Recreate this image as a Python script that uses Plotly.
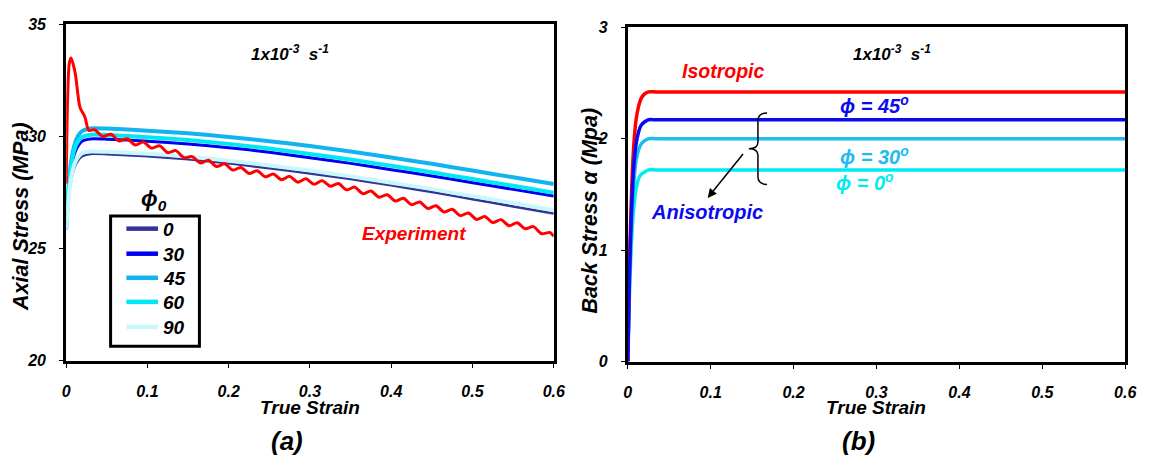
import plotly.graph_objects as go

# ---------------- data: panel (a) ----------------
strain_model = [0, 0.002, 0.005, 0.01, 0.015, 0.02, 0.03, 0.05, 0.1, 0.15, 0.2, 0.25,
                0.3, 0.35, 0.4, 0.45, 0.5, 0.55, 0.6]
stress_phi0 = [25.85, 26.7, 27.8, 28.6, 28.95, 29.12, 29.22, 29.21, 29.12, 28.98, 28.8, 28.58,
               28.35, 28.1, 27.82, 27.52, 27.2, 26.88, 26.56]
stress_phi30 = [25.85, 27.0, 28.3, 29.2, 29.6, 29.8, 29.89, 29.88, 29.79, 29.66, 29.5, 29.3,
                29.05, 28.8, 28.52, 28.24, 27.94, 27.64, 27.34]
stress_phi45 = [25.85, 27.3, 28.6, 29.6, 30.05, 30.25, 30.36, 30.35, 30.26, 30.14, 29.98, 29.79,
                29.57, 29.33, 29.06, 28.78, 28.48, 28.18, 27.88]
stress_phi60 = [25.85, 27.1, 28.4, 29.4, 29.8, 29.98, 30.08, 30.07, 29.97, 29.84, 29.67, 29.46,
                29.22, 28.97, 28.69, 28.4, 28.1, 27.8, 27.49]
stress_phi90 = [25.85, 26.8, 27.9, 28.75, 29.1, 29.26, 29.33, 29.32, 29.23, 29.1, 28.92, 28.71,
                28.48, 28.22, 27.94, 27.65, 27.34, 27.03, 26.71]

strain_exp = [0.0, 0.004, 0.006, 0.011, 0.017, 0.023, 0.028,
              0.035, 0.045, 0.055, 0.065, 0.075, 0.085, 0.095, 0.105, 0.115, 0.125,
              0.135, 0.145, 0.155, 0.165, 0.175, 0.185, 0.195, 0.205, 0.215, 0.225,
              0.235, 0.245, 0.255, 0.265, 0.275, 0.285, 0.295, 0.305, 0.315, 0.325,
              0.335, 0.345, 0.355, 0.365, 0.375, 0.385, 0.395, 0.405, 0.415, 0.425,
              0.435, 0.445, 0.455, 0.465, 0.475, 0.485, 0.495, 0.505, 0.515, 0.525,
              0.535, 0.545, 0.555, 0.565, 0.575, 0.585, 0.595, 0.6]
stress_exp = [27.9, 33.3, 33.5, 32.85, 31.3, 30.87, 30.27,
              30.30, 30.00, 30.10, 29.80, 29.90, 29.62, 29.75, 29.48, 29.58, 29.28,
              29.37, 29.05, 29.10, 28.82, 28.94, 28.66, 28.78, 28.50, 28.62, 28.35,
              28.47, 28.20, 28.33, 28.07, 28.22, 27.96, 28.11, 27.87, 28.03, 27.78,
              27.90, 27.62, 27.74, 27.45, 27.57, 27.29, 27.40, 27.12, 27.24, 26.96,
              27.08, 26.79, 26.91, 26.63, 26.75, 26.47, 26.59, 26.30, 26.43, 26.16,
              26.29, 26.02, 26.15, 25.88, 25.98, 25.66, 25.72, 25.55]

# ---------------- data: panel (b) ----------------
strain_back = [0, 0.002, 0.004, 0.006, 0.008, 0.01, 0.013, 0.016, 0.02, 0.025, 0.035, 0.6]
back_iso = [0, 0.85, 1.4, 1.78, 2.02, 2.17, 2.29, 2.36, 2.40, 2.42, 2.42, 2.42]
back_phi45 = [0, 0.76, 1.25, 1.6, 1.82, 1.95, 2.06, 2.12, 2.15, 2.17, 2.17, 2.17]
back_phi30 = [0, 0.7, 1.16, 1.47, 1.67, 1.8, 1.9, 1.95, 1.98, 2.0, 2.0, 2.0]
back_phi0 = [0, 0.6, 1.0, 1.27, 1.44, 1.55, 1.64, 1.68, 1.7, 1.72, 1.72, 1.72]

x_ticks = [0, 0.1, 0.2, 0.3, 0.4, 0.5, 0.6]
x_ticklabels = ["0", "0.1", "0.2", "0.3", "0.4", "0.5", "0.6"]
ya_ticks = [20, 25, 30, 35]
yb_ticks = [0, 1, 2, 3]

legend_names = ["0", "30", "45", "60", "90"]
legend_colors = ["#333399", "#0000F0", "#12B4F0", "#00E8F4", "#C8F8FC"]

FONT = "Liberation Sans, Arial, sans-serif"
BI = dict(family=FONT, weight="bold", style="italic", color="black")

fig = go.Figure()

model_values = [stress_phi0, stress_phi30, stress_phi45, stress_phi60, stress_phi90]
model_widths = [2.5, 3, 4, 4, 4]

for name, ys, col, w in zip(legend_names, model_values, legend_colors, model_widths):
    fig.add_trace(go.Scatter(x=strain_model, y=ys, mode="lines", name=name,
                             line=dict(color=col, width=w, shape="spline", smoothing=0.6),
                             xaxis="x", yaxis="y", showlegend=False))

fig.add_trace(go.Scatter(x=strain_exp, y=stress_exp, mode="lines", name="Experiment",
                         line=dict(color="#FF0000", width=3, shape="spline", smoothing=0.8),
                         xaxis="x", yaxis="y", showlegend=False))

for ys, col in [(back_phi0, "#00ECF4"), (back_phi30, "#1EBCF0"),
                (back_iso, "#FF0000"), (back_phi45, "#0A0AF0")]:
    fig.add_trace(go.Scatter(x=strain_back, y=ys, mode="lines",
                             line=dict(color=col, width=3.5, shape="spline", smoothing=0.8),
                             xaxis="x2", yaxis="y2", showlegend=False))

W, H = 1153, 466
def px_x(p):
    return p / W
def px_y(p):
    return 1 - p / H

axis_common = dict(showline=True, linewidth=3, linecolor="black", mirror=True,
                   showgrid=False, zeroline=False, ticks="outside", ticklen=4,
                   tickwidth=1, tickcolor="black",
                   tickfont=dict(size=16, **BI))

fig.update_layout(
    width=W, height=H,
    margin=dict(l=0, r=0, t=0, b=0),
    paper_bgcolor="white", plot_bgcolor="white",
    xaxis=dict(domain=[px_x(63), px_x(557)], range=[0, 0.6], tickvals=x_ticks,
               ticktext=x_ticklabels, anchor="y", ticklabelstandoff=10, **axis_common),
    yaxis=dict(domain=[px_y(366), px_y(17)], range=[20, 35], tickvals=ya_ticks,
               anchor="x", ticklabelstandoff=10, **axis_common),
    xaxis2=dict(domain=[px_x(632), px_x(1136)], range=[0, 0.6], tickvals=x_ticks,
                ticktext=x_ticklabels, anchor="y2", ticklabelstandoff=10, **axis_common),
    yaxis2=dict(domain=[px_y(367), px_y(20)], range=[0, 3], tickvals=yb_ticks,
                anchor="x2", ticklabelstandoff=10, **axis_common),
    showlegend=False,
)

ann = []
def text(x, y, t, size, color="black", angle=0, xanchor="center"):
    ann.append(dict(x=px_x(x), y=px_y(y), xref="paper", yref="paper", text=t,
                    showarrow=False, textangle=angle, xanchor=xanchor, yanchor="middle",
                    font=dict(size=size, family=FONT, weight="bold", style="italic", color=color)))

text(17, 216, "Axial Stress (MPa)", 21.5, angle=-90)
text(594, 210, "Back Stress α (Mpa)", 21.5, angle=-90)
text(310, 415, "True Strain", 19)
text(884, 415, "True Strain", 19)
text(287, 449, "(a)", 26)
text(866, 449, "(b)", 26)
text(290, 47, "1x10<sup>-3</sup>  s<sup>-1</sup>", 17)
text(900, 47, "1x10<sup>-3</sup>  s<sup>-1</sup>", 17)
text(152, 199, "ϕ<sub>0</sub>", 22)
text(415, 234, "Experiment", 19, color="#FF0000")
text(728, 65, "Isotropic", 19.5, color="#FF0000")
text(882, 100, "ϕ = 45<sup>o</sup>", 20, color="#0A0AF0")
text(882, 153, "ϕ = 30<sup>o</sup>", 20, color="#1EBCF0")
text(872, 180, "ϕ = 0<sup>o</sup>", 20, color="#00ECF4")
text(712, 212, "Anisotropic", 20, color="#0A0AF0")

# custom legend box for panel (a)
legend_item_y = [229, 255, 280, 305, 331]
for name, col, yy in zip(legend_names, legend_colors, legend_item_y):
    fig.add_shape(type="line", xref="paper", yref="paper",
                  x0=px_x(124), x1=px_x(156), y0=px_y(yy), y1=px_y(yy),
                  line=dict(color=col, width=4.5))
    text(159, yy + 1, name, 19, xanchor="left")

fig.add_shape(type="rect", xref="paper", yref="paper",
              x0=px_x(108), x1=px_x(198), y0=px_y(216), y1=px_y(351),
              line=dict(color="black", width=3), fillcolor="rgba(0,0,0,0)")

# arrow from brace to "Anisotropic"
ann.append(dict(x=0.0964, y=1.469, xref="x2", yref="y2", ax=0.1405, ay=1.876,
                axref="x2", ayref="y2", showarrow=True, arrowhead=2, arrowsize=1.2,
                arrowwidth=1.5, arrowcolor="black", text=""))

fig.update_layout(annotations=ann)

# brace "{" drawn as a path in data coordinates of panel (b)
fig.add_shape(type="path", xref="x2", yref="y2",
              path="M 0.168,2.23 Q 0.157,2.23 0.157,2.16 L 0.157,1.97 Q 0.157,1.91 0.146,1.91 "
                   "Q 0.157,1.91 0.157,1.85 L 0.157,1.66 Q 0.157,1.59 0.168,1.59",
              line=dict(color="black", width=1.5))

fig.write_html("out.html")
